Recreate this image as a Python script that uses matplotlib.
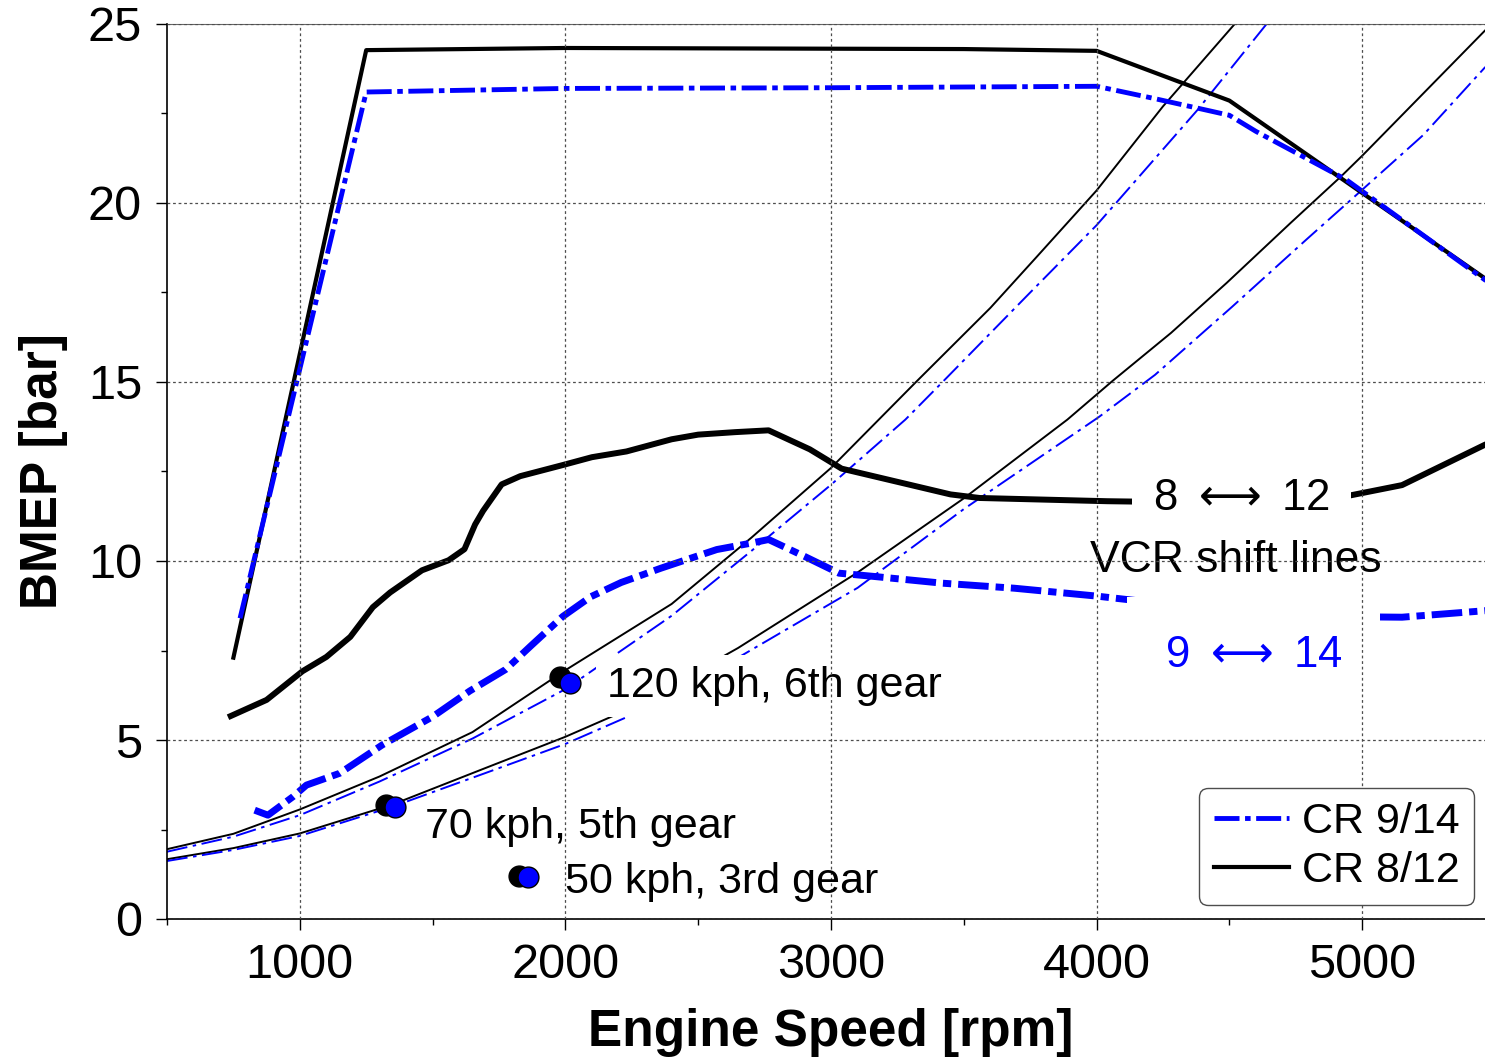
import numpy as np
import matplotlib
matplotlib.use('Agg')
import matplotlib.pyplot as plt
from matplotlib.ticker import MultipleLocator

plt.rcParams['font.family'] = ['Liberation Sans', 'DejaVu Sans']
plt.rcParams['mathtext.fontset'] = 'dejavusans'
plt.rcParams['lines.scale_dashes'] = False

# full load curves
fl_rpm_8_12 = [750, 1250, 2000, 3500, 4000, 4500, 5500]
fl_bmep_8_12 = [7.3, 24.27, 24.33, 24.3, 24.25, 22.86, 17.7]
fl_rpm_9_14 = [775, 1250, 2000, 3000, 4000, 4210, 4380, 4500, 4600, 4940, 5500]
fl_bmep_9_14 = [8.4, 23.1, 23.2, 23.22, 23.26, 22.93, 22.65, 22.45, 22.0, 20.65, 17.65]

# VCR shift lines
sh_rpm_8_12 = [740, 875, 1010, 1100, 1190, 1275, 1340, 1460, 1560, 1620, 1660, 1690,
               1760, 1830, 1990, 2100, 2230, 2400, 2500, 2640, 2765, 2920, 3040, 3450,
               3560, 4040, 4140, 4940, 5150, 5460, 5500]
sh_bmep_8_12 = [5.67, 6.12, 6.92, 7.32, 7.88, 8.71, 9.12, 9.74, 10.02, 10.33, 11.02, 11.4,
                12.14, 12.37, 12.68, 12.9, 13.06, 13.4, 13.53, 13.6, 13.65, 13.12, 12.58, 11.86,
                11.76, 11.67, 11.66, 11.81, 12.12, 13.24, 13.37]
sh_rpm_9_14 = [830, 880, 975, 1025, 1150, 1310, 1500, 1640, 1775, 1870, 1990, 2095, 2210,
               2360, 2570, 2700, 2765, 2900, 3030, 3160, 3420, 3690, 4000, 4190, 5000, 5150,
               5460, 5500]
sh_bmep_9_14 = [3.04, 2.9, 3.42, 3.74, 4.07, 4.86, 5.65, 6.37, 6.97, 7.63, 8.45, 9.0, 9.4,
                9.8, 10.32, 10.5, 10.6, 10.13, 9.66, 9.57, 9.38, 9.24, 9.02, 8.86, 8.44, 8.43,
                8.61, 8.65]

# road load curves (6th gear upper, 5th gear lower)
rl6_rpm_8_12 = [500, 750, 1000, 1300, 1650, 2000, 2400, 2700, 3000, 3180, 3320, 3600, 3775,
                4000, 4250, 4520, 4600]
rl6_bmep_8_12 = [1.95, 2.38, 3.06, 3.98, 5.22, 6.95, 8.8, 10.65, 12.6, 13.95, 15.0, 17.07, 18.5,
                 20.35, 22.7, 25.0, 25.7]
rl6_rpm_9_14 = [500, 750, 1000, 1300, 1650, 2000, 2400, 2700, 3000, 3280, 3420, 3750, 4000,
                4380, 4640, 4700]
rl6_bmep_9_14 = [1.88, 2.3, 2.9, 3.84, 5.04, 6.42, 8.47, 10.28, 12.13, 13.95, 15.0, 17.5, 19.38,
                 22.6, 25.0, 25.5]
rl5_rpm_8_12 = [500, 750, 1000, 1350, 1700, 2000, 2250, 2650, 3100, 3500, 3890, 4060, 4280,
                4490, 4730, 4920, 5000, 5460, 5500]
rl5_bmep_8_12 = [1.67, 1.98, 2.39, 3.2, 4.22, 5.09, 5.9, 7.57, 9.68, 11.75, 13.95, 15.03, 16.37,
                 17.77, 19.44, 20.74, 21.32, 24.8, 25.1]
rl5_rpm_9_14 = [500, 750, 1000, 1350, 1700, 2000, 2250, 2650, 3100, 3500, 4010, 4220, 4510,
                4790, 5000, 5230, 5460, 5500]
rl5_bmep_9_14 = [1.62, 1.93, 2.32, 3.14, 4.08, 4.89, 5.7, 7.3, 9.25, 11.45, 14.03, 15.2, 17.1,
                 18.98, 20.37, 21.9, 23.77, 24.05]

# operating points: 120 kph 6th, 70 kph 5th, 50 kph 3rd
op_rpm_8_12 = [1980, 1325, 1825]
op_bmep_8_12 = [6.77, 3.18, 1.2]
op_rpm_9_14 = [2017, 1358, 1858]
op_bmep_9_14 = [6.6, 3.13, 1.17]
op_labels = ['120 kph, 6th gear', '70 kph, 5th gear', '50 kph, 3rd gear']

fig = plt.figure(figsize=(14.85, 10.59), dpi=100)
ax = fig.add_axes([167 / 1485, 1 - 919 / 1059, 1328 / 1485, 895 / 1059])

thin_dd = (0, (15, 4, 2.5, 4))
fl_dd = (0, (18, 4, 4, 4))
sh_dd = (0, (22, 5, 6, 5))

# road load
ax.plot(rl6_rpm_8_12, rl6_bmep_8_12, color='black', lw=1.4)
ax.plot(rl6_rpm_9_14, rl6_bmep_9_14, color='blue', lw=1.4, linestyle=thin_dd)
ax.plot(rl5_rpm_8_12, rl5_bmep_8_12, color='black', lw=1.4)
ax.plot(rl5_rpm_9_14, rl5_bmep_9_14, color='blue', lw=1.4, linestyle=thin_dd)

# full load
ax.plot(fl_rpm_8_12, fl_bmep_8_12, color='black', lw=3, label='CR 8/12')
ax.plot(fl_rpm_9_14, fl_bmep_9_14, color='blue', lw=3.5, linestyle=fl_dd, label='CR 9/14')

# shift lines
ax.plot(sh_rpm_8_12, sh_bmep_8_12, color='black', lw=4.3)
ax.plot(sh_rpm_9_14, sh_bmep_9_14, color='blue', lw=5, linestyle=sh_dd)

# operating points
ax.plot(op_rpm_8_12, op_bmep_8_12, 'o', ms=15, mfc='black', mec='black', mew=1, zorder=4)
ax.plot(op_rpm_9_14, op_bmep_9_14, 'o', ms=15, mfc='blue', mec='black', mew=1, zorder=4)

ax.text(2157, 6.2, op_labels[0], fontsize=31, va='baseline', ha='left', zorder=2.2,
        bbox=dict(facecolor='white', edgecolor='none', pad=8))
ax.text(1471, 2.26, op_labels[1], fontsize=31, va='baseline', ha='left', zorder=4)
ax.text(1998, 0.73, op_labels[2], fontsize=31, va='baseline', ha='left', zorder=4)

ax.text(4212, 11.42, '8 $\\longleftrightarrow$ 12', fontsize=31.5, va='baseline', ha='left',
        zorder=2.2, bbox=dict(facecolor='white', edgecolor='none', pad=15))
ax.text(4258, 7.04, '9 $\\longleftrightarrow$ 14', fontsize=31.5, color='blue', va='baseline',
        ha='left', zorder=2.2, bbox=dict(facecolor='white', edgecolor='none', pad=27))
ax.text(3975, 9.69, 'VCR shift lines', fontsize=32, va='baseline', ha='left', zorder=2.3)

ax.set_xlim(500, 5500)
ax.set_ylim(0, 25)
ax.xaxis.set_major_locator(MultipleLocator(1000))
ax.xaxis.set_minor_locator(MultipleLocator(500))
ax.yaxis.set_major_locator(MultipleLocator(5))
ax.yaxis.set_minor_locator(MultipleLocator(2.5))
ax.tick_params(which='major', direction='out', length=8, width=1, labelsize=35)
ax.tick_params(axis='x', which='major', pad=9)
ax.tick_params(axis='y', which='major', pad=10)
ax.tick_params(which='minor', direction='out', length=4, width=1)

ax.set_axisbelow(False)
ax.grid(True, which='major', linestyle=(0, (2, 2)), color='0.3', lw=0.9)
for s in ['left', 'bottom']:
    ax.spines[s].set_linewidth(1.2)
ax.spines['top'].set_color('0.4')

ax.set_xlabel('Engine Speed [rpm]', fontsize=37, fontweight='bold', labelpad=15)
ax.set_ylabel('BMEP [bar]', fontsize=37, fontweight='bold', labelpad=14)

handles, labels = ax.get_legend_handles_labels()
leg = ax.legend(handles[::-1], labels[::-1], loc='lower right', bbox_to_anchor=(0.984, 0.0156),
                borderaxespad=0, fontsize=31, handlelength=1.75, handletextpad=0.3,
                labelspacing=0.2, borderpad=0.33, fancybox=True, framealpha=1,
                edgecolor='0.3')
leg.get_frame().set_linewidth(1)

fig.savefig('out.png', dpi=100)
